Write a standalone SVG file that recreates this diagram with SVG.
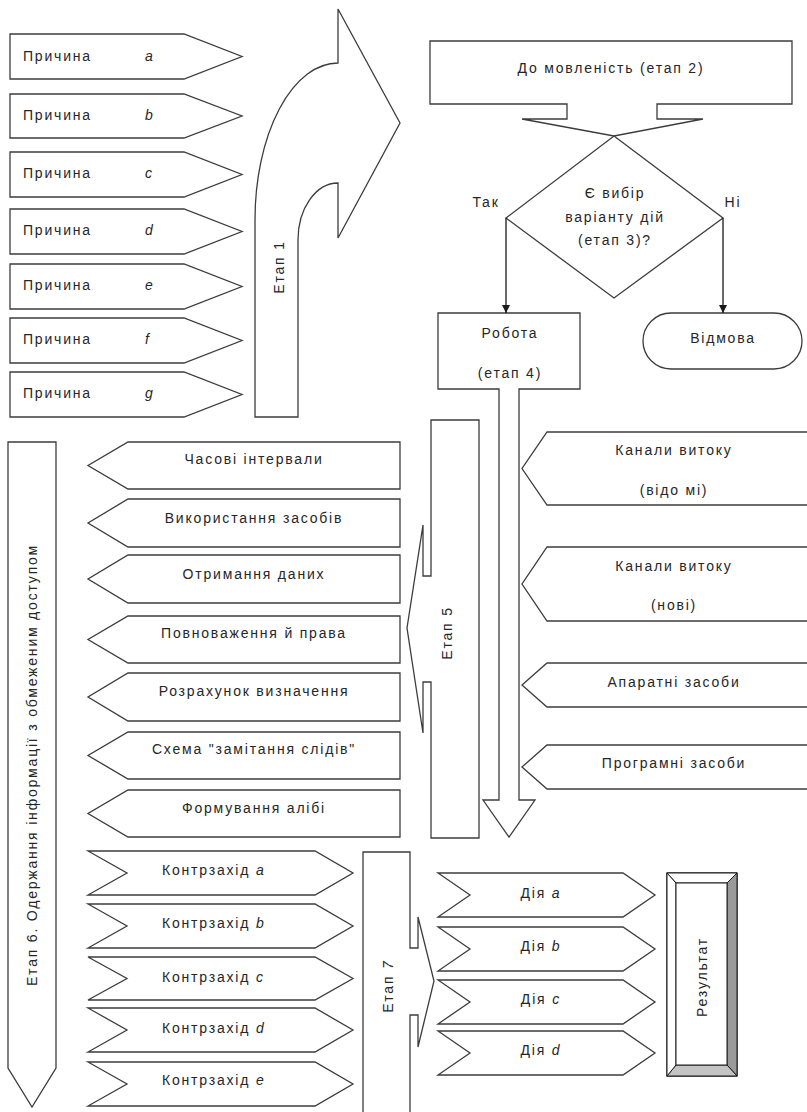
<svg xmlns="http://www.w3.org/2000/svg" width="807" height="1112" viewBox="0 0 807 1112">
<style>
.sh{fill:#fff;stroke:#3c3c3c;stroke-width:1.3;stroke-linejoin:miter}
.t{font-family:"Liberation Sans",Arial,sans-serif;font-size:14px;fill:#262626;letter-spacing:1.8px}
.c{text-anchor:middle}
.i{font-style:italic;letter-spacing:0}
.ln{stroke:#1a1a1a;stroke-width:1.3;fill:none}
</style>
<defs>
<marker id="ah" viewBox="0 0 10 10" refX="10" refY="5" markerWidth="8" markerHeight="8" markerUnits="userSpaceOnUse" orient="auto">
<path d="M0,0 L10,5 L0,10 Z" fill="#1a1a1a"/>
</marker>
</defs>
<rect width="807" height="1112" fill="#fff"/>

<g id="causes">
<g id="cause-a"><polygon class="sh" points="10,34 184,34 242,56.5 184,79 10,79"/><text class="t" x="23" y="61">Причина</text><text class="t i" x="145" y="61">a</text></g>
<g id="cause-b"><polygon class="sh" points="10,94 184,94 242,116 184,138 10,138"/><text class="t" x="23" y="120">Причина</text><text class="t i" x="145" y="120">b</text></g>
<g id="cause-c"><polygon class="sh" points="10,152 184,152 242,174.5 184,197 10,197"/><text class="t" x="23" y="178">Причина</text><text class="t i" x="145" y="178">c</text></g>
<g id="cause-d"><polygon class="sh" points="10,209 184,209 242,231.5 184,254 10,254"/><text class="t" x="23" y="235">Причина</text><text class="t i" x="145" y="235">d</text></g>
<g id="cause-e"><polygon class="sh" points="10,264 184,264 242,286.5 184,309 10,309"/><text class="t" x="23" y="290">Причина</text><text class="t i" x="145" y="290">e</text></g>
<g id="cause-f"><polygon class="sh" points="10,318 184,318 242,340.5 184,363 10,363"/><text class="t" x="23" y="344">Причина</text><text class="t i" x="145" y="344">f</text></g>
<g id="cause-g"><polygon class="sh" points="10,372 184,372 242,394.5 184,417 10,417"/><text class="t" x="23" y="398">Причина</text><text class="t i" x="145" y="398">g</text></g>
</g>

<g id="etap1">
<path class="sh" d="M255,417 V220 A83,157 0 0 1 338,63 V9 L400,123 L338,238 V183 A40,57 0 0 0 298,240 V417 Z"/>
<text class="t c" transform="translate(284,267) rotate(-90)">Етап 1</text>
</g>

<g id="etap2">
<path class="sh" d="M430,41 H792 V104 H657 V119 H703 L614,136 L522,119 H567 V104 H430 Z"/>
<text class="t c" x="611" y="73">До мовленість (етап 2)</text>
</g>

<g id="etap3">
<polygon class="sh" points="614,136 723,218 614,298 506,218"/>
<text class="t c" x="615" y="198">Є вибір</text>
<text class="t c" x="615" y="222">варіанту дій</text>
<text class="t c" x="615" y="245">(етап 3)?</text>
</g>

<g id="etap4">
<path class="sh" d="M438,313 H580 V389 H519 V800 H535 L509,837 L483,800 H499 V389 H438 Z"/>
<text class="t c" x="510" y="338">Робота</text>
<text class="t c" x="510" y="378">(етап 4)</text>
</g>

<g id="refusal">
<rect class="sh" x="643" y="313" width="159" height="56" rx="28" ry="28"/>
<text class="t c" x="723" y="343">Відмова</text>
</g>

<g id="connectors">
<line class="ln" x1="506" y1="218" x2="506" y2="313" marker-end="url(#ah)"/>
<line class="ln" x1="723" y1="218" x2="723" y2="313" marker-end="url(#ah)"/>
<text class="t c" x="486" y="207">Так</text>
<text class="t c" x="733" y="207">Ні</text>
</g>

<g id="channels">
<g id="ch1"><polygon class="sh" points="812,432 547,432 522,468.5 547,505 812,505"/><text class="t c" x="674" y="455">Канали витоку</text><text class="t c" x="674" y="495">(відо мі)</text></g>
<g id="ch2"><polygon class="sh" points="812,547 547,547 522,584 547,621 812,621"/><text class="t c" x="674" y="571">Канали витоку</text><text class="t c" x="674" y="610">(нові)</text></g>
<g id="ch3"><polygon class="sh" points="812,663 547,663 522,685 547,707 812,707"/><text class="t c" x="674" y="687">Апаратні засоби</text></g>
<g id="ch4"><polygon class="sh" points="812,745 547,745 522,767 547,789 812,789"/><text class="t c" x="674" y="768">Програмні засоби</text></g>
</g>

<g id="etap5">
<path class="sh" d="M431,420 H479 V838 H431 V682 H423 V733 L407,628 L423,525 V576 H431 Z"/>
<text class="t c" transform="translate(452,633) rotate(-90)">Етап 5</text>
</g>

<g id="factors">
<g id="f1"><polygon class="sh" points="400,442 128,442 88,465.5 128,489 400,489"/><text class="t c" x="254" y="464">Часові інтервали</text></g>
<g id="f2"><polygon class="sh" points="400,499 128,499 88,523 128,547 400,547"/><text class="t c" x="254" y="523">Використання засобів</text></g>
<g id="f3"><polygon class="sh" points="400,555 128,555 88,579 128,603 400,603"/><text class="t c" x="254" y="579">Отримання даних</text></g>
<g id="f4"><polygon class="sh" points="400,616 128,616 88,639.5 128,663 400,663"/><text class="t c" x="254" y="638">Повноваження й права</text></g>
<g id="f5"><polygon class="sh" points="400,673 128,673 88,697 128,721 400,721"/><text class="t c" x="254" y="696">Розрахунок визначення</text></g>
<g id="f6"><polygon class="sh" points="400,732 128,732 88,755.5 128,779 400,779"/><text class="t c" x="254" y="754">Схема "замітання слідів"</text></g>
<g id="f7"><polygon class="sh" points="400,790 128,790 88,813.5 128,837 400,837"/><text class="t c" x="254" y="813">Формування алібі</text></g>
</g>

<g id="etap6">
<polygon class="sh" points="8,442 56,442 56,1068 32,1107 8,1068"/>
<text class="t c" transform="translate(37,765) rotate(-90)">Етап 6.  Одержання інформації з обмеженим доступом</text>
</g>

<g id="countermeasures">
<g id="k1"><polygon class="sh" points="88,851 315,851 353,873 315,895 88,895 127,873"/><text class="t" x="162" y="875">Контрзахід <tspan class="i">a</tspan></text></g>
<g id="k2"><polygon class="sh" points="88,904 315,904 353,926 315,948 88,948 127,926"/><text class="t" x="162" y="928">Контрзахід <tspan class="i">b</tspan></text></g>
<g id="k3"><polygon class="sh" points="88,957 315,957 353,978.5 315,1000 88,1000 127,978.5"/><text class="t" x="162" y="982">Контрзахід <tspan class="i">c</tspan></text></g>
<g id="k4"><polygon class="sh" points="88,1008 315,1008 353,1030 315,1052 88,1052 127,1030"/><text class="t" x="162" y="1033">Контрзахід <tspan class="i">d</tspan></text></g>
<g id="k5"><polygon class="sh" points="88,1062 315,1062 353,1084 315,1106 88,1106 127,1084"/><text class="t" x="162" y="1085">Контрзахід <tspan class="i">e</tspan></text></g>
</g>

<g id="etap7">
<path class="sh" d="M363,852 H410 V948 H418 V917 L434,981 L418,1047 V1015 H410 V1116 H363 Z"/>
<text class="t c" transform="translate(393,987) rotate(-90)">Етап <tspan class="i">7</tspan></text>
</g>

<g id="actions">
<g id="a1"><polygon class="sh" points="438,873 623,873 655,895 623,917 438,917 470,895"/><text class="t c" x="540" y="898">Дія <tspan class="i">a</tspan></text></g>
<g id="a2"><polygon class="sh" points="438,927 623,927 655,949 623,971 438,971 470,949"/><text class="t c" x="540" y="951">Дія <tspan class="i">b</tspan></text></g>
<g id="a3"><polygon class="sh" points="438,980 623,980 655,1002 623,1024 438,1024 470,1002"/><text class="t c" x="540" y="1004">Дія <tspan class="i">c</tspan></text></g>
<g id="a4"><polygon class="sh" points="438,1031 623,1031 655,1053 623,1075 438,1075 470,1053"/><text class="t c" x="540" y="1055">Дія <tspan class="i">d</tspan></text></g>
</g>

<g id="result">
<rect x="667" y="873" width="70" height="203" fill="#fff" stroke="#1a1a1a" stroke-width="1.3"/>
<polygon points="737,873 737,1076 727,1065 727,883" fill="#9a9a9a" stroke="#1a1a1a" stroke-width="1"/>
<polygon points="667,1076 737,1076 727,1065 676,1065" fill="#c4c4c4" stroke="#1a1a1a" stroke-width="1"/>
<polygon points="667,873 737,873 727,883 676,883" fill="#fff" stroke="#1a1a1a" stroke-width="1"/>
<polygon points="667,873 676,883 676,1065 667,1076" fill="#fff" stroke="#1a1a1a" stroke-width="1"/>
<rect x="676" y="883" width="51" height="182" fill="#fff" stroke="#1a1a1a" stroke-width="1"/>
<text class="t c" transform="translate(707,977) rotate(-90)">Результат</text>
</g>
</svg>
